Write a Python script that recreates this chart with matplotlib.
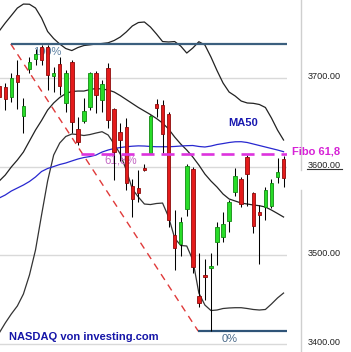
import matplotlib
matplotlib.use("Agg")
import matplotlib.pyplot as plt
from matplotlib.lines import Line2D
import matplotlib.transforms as mtransforms
import numpy as np

plt.rcParams['font.family'] = ['Liberation Sans', 'DejaVu Sans']
plt.rcParams['lines.scale_dashes'] = False

# ---- data ----
opens  = [3691, 3690.5, 3678.5, 3703.4, 3657.4, 3710.2, 3721.5, 3735.7, 3735.7, 3702.6,
          3715.8, 3672.4, 3718.8, 3643.0, 3652.0, 3667.2, 3706.3, 3675.5, 3711.3, 3664.9,
          3639.6, 3645.3, 3578.2, 3575.6, 3599.1, 3615.8, 3670.9, 3669.8, 3659.6, 3522.7,
          3512.6, 3551.8, 3597.0, 3453.7, 3477.2, 3485.0, 3515.2, 3520.8, 3538.9, 3571.7,
          3585.7, 3611.3, 3569.9, 3548.8, 3554.8, 3555.5, 3588.0, 3608.4]
highs  = [3695, 3694.3, 3705.7, 3720.7, 3677.7, 3724.4, 3733.1, 3737.7, 3737.7, 3713.1,
          3724.4, 3709.4, 3720.7, 3655.9, 3677.4, 3707.5, 3708.3, 3698.1, 3717.0, 3666.1,
          3650.0, 3655.0, 3586.1, 3596.3, 3602.6, 3658.5, 3676.2, 3675.5, 3662.2, 3551.0,
          3543.4, 3602.7, 3600.0, 3502.0, 3495.2, 3502.0, 3537.8, 3549.1, 3562.3, 3598.2,
          3588.7, 3613.2, 3571.7, 3556.7, 3577.4, 3585.7, 3609.5, 3612.1]
lows   = [3666, 3664.1, 3673.5, 3665.3, 3638.1, 3705.7, 3715.0, 3715.0, 3686.8, 3684.8,
          3681.1, 3662.2, 3637.8, 3624.5, 3649.1, 3664.1, 3661.1, 3662.2, 3643.4, 3585.0,
          3607.0, 3573.6, 3543.4, 3560.4, 3595.1, 3615.2, 3656.6, 3615.2, 3532.1, 3483.2,
          3499.0, 3544.2, 3479.8, 3441.6, 3449.2, 3414.5, 3488.8, 3515.2, 3526.5, 3566.9,
          3554.8, 3555.5, 3524.7, 3489.9, 3539.7, 3552.9, 3581.2, 3577.4]
closes = [3679, 3676.2, 3700.0, 3695.5, 3668.7, 3718.8, 3727.1, 3720.7, 3703.7, 3706.3,
          3691.3, 3706.3, 3650.9, 3628.3, 3663.0, 3705.7, 3681.1, 3693.2, 3652.8, 3617.0,
          3630.2, 3581.2, 3563.1, 3570.6, 3596.8, 3657.4, 3666.1, 3637.0, 3539.7, 3507.7,
          3537.8, 3600.8, 3487.1, 3446.2, 3474.9, 3487.3, 3532.1, 3534.8, 3559.7, 3589.5,
          3557.8, 3591.4, 3532.9, 3545.0, 3573.6, 3581.9, 3594.0, 3586.9]

bb_upper = [3753.5, 3762.6, 3771.0, 3779.5, 3784.0, 3783.8, 3779.5, 3768.2, 3753.0, 3745.0,
            3738.8, 3733.7, 3731.4, 3734.8, 3737.1, 3737.9, 3738.8, 3739.4, 3740.2, 3742.8,
            3746.7, 3752.4, 3759.2, 3763.1, 3763.7, 3758.0, 3750.1, 3741.6, 3741.1, 3741.6,
            3736.5, 3728.6, 3734.3, 3741.4, 3737.7, 3724.1, 3708.8, 3694.7, 3684.5, 3680.0,
            3674.3, 3672.1, 3671.7, 3670.4, 3667.0, 3655.1, 3641.5, 3630.2]
bb_middle = [3583.8, 3590.6, 3599.7, 3607.6, 3616.6, 3629.1, 3641.5, 3652.3, 3664.1, 3672.1,
             3678.3, 3682.8, 3685.1, 3685.6, 3685.6, 3687.3, 3688.5, 3687.9, 3686.8, 3684.5,
             3680.5, 3676.0, 3671.5, 3667.0, 3663.0, 3659.0, 3654.5, 3649.4, 3642.6, 3633.6,
             3625.7, 3618.9, 3611.0, 3601.9, 3591.7, 3583.8, 3577.0, 3569.1, 3563.5, 3561.2,
             3558.9, 3557.8, 3556.7, 3555.9, 3554.4, 3551.0, 3547.1, 3543.1]
bb_lower = [3411.9, 3423.2, 3433.4, 3442.5, 3456.0, 3477.5, 3505.8, 3545.4, 3583.8, 3613.2,
            3626.8, 3634.2, 3637.0, 3636.4, 3635.3, 3636.4, 3638.1, 3639.6, 3635.9, 3625.7,
            3614.4, 3596.3, 3574.8, 3565.7, 3557.8, 3557.2, 3558.4, 3558.9, 3543.1, 3519.3,
            3510.9, 3510.3, 3494.5, 3457.1, 3443.5, 3437.3, 3437.9, 3439.6, 3440.2, 3440.5,
            3440.5, 3439.6, 3438.5, 3437.9, 3438.5, 3444.7, 3451.5, 3457.1]
ma50 = [3564.6, 3568.0, 3572.5, 3575.9, 3579.3, 3583.3, 3588.4, 3594.6, 3598.0, 3600.2,
        3602.5, 3604.2, 3606.5, 3608.7, 3610.4, 3611.5, 3613.2, 3616.6, 3618.9, 3620.6,
        3621.7, 3622.6, 3623.2, 3623.6, 3623.4, 3622.9, 3622.6, 3622.6, 3622.6, 3622.9,
        3623.4, 3623.8, 3624.0, 3622.9, 3622.3, 3623.4, 3625.1, 3626.2, 3627.4, 3628.2,
        3628.3, 3627.4, 3625.7, 3624.0, 3622.3, 3620.6, 3618.9, 3617.0]

fib_high = 3739.0
fib_low = 3414.0
fib_high_idx = 1.9
fib_low_idx = 32.9
fib_level = 0.618
yticks = [3400, 3500, 3600, 3700]
ytick_labels = ["3400.00", "3500.00", "3600.00", "3700.00"]

# ---- figure ----
W, H = 351, 352
fig = plt.figure(figsize=(W / 100, H / 100), dpi=100)
fig.patch.set_facecolor('white')
ax = fig.add_axes([0, 0, 287 / W, 1])
ax.set_xlim(0.13, 47.57)
ax.set_ylim(3390.4, 3788.6)
ax.axis('off')

x = np.arange(len(opens))

# gridlines
for v in yticks:
    ax.axhline(v, color='#d9d9d9', lw=1.0, zorder=0)

# bollinger bands and MA50
ax.plot(x, bb_upper, color='#222222', lw=0.9, zorder=1)
ax.plot(x, bb_middle, color='#222222', lw=0.9, zorder=1)
ax.plot(x, bb_lower, color='#333333', lw=0.9, zorder=1)
ax.plot(x, ma50, color='#2828d0', lw=0.9, zorder=1)

# fibonacci construction
xr = 47.57
ax.plot([fib_high_idx, xr], [fib_high, fib_high], color='#3b5f7e', lw=1.6,
        solid_capstyle='butt', zorder=2)
ax.plot([fib_low_idx, xr], [fib_low, fib_low], color='#2f5478', lw=1.6,
        solid_capstyle='butt', zorder=2)
ax.plot([fib_high_idx, fib_low_idx], [fib_high, fib_low], color='#e03a3a', lw=1.0,
        dashes=(5, 4), zorder=1.5)
fib618 = fib_low + fib_level * (fib_high - fib_low)
ax.plot([13.6, xr], [fib618, fib618], color='#dd33dd', lw=1.9,
        dashes=(9.4, 5.0), dash_capstyle='butt', zorder=5)

# text labels on the chart
ax.text(5.55, 3729.7, "100%", color='#5b7fa0', fontsize=8, va='center', ha='left', zorder=1)
ax.text(17.45, 3606.5, "61,8%", color='#c46ac4', fontsize=8.3, va='center', ha='left', zorder=1)
ax.text(36.8, 3405.5, "0%", color='#4a6a8a', fontsize=8, va='center', ha='left', zorder=1)
ax.text(37.8, 3649.8, "MA50", color='#1818b0', fontsize=8, fontweight='bold',
        va='center', ha='left', zorder=6)

# candles
wick_w = 0.75
body_w = 0.58
for i in range(len(opens)):
    o, h, l, c = opens[i], highs[i], lows[i], closes[i]
    up = c >= o
    fc = '#28dc28' if up else '#e41b1b'
    ec = '#138a13' if up else '#8e0b0b'
    ax.vlines(i, l, h, color='black', lw=wick_w, zorder=3)
    ax.bar(i, abs(c - o), bottom=min(o, c), width=body_w, color=fc, edgecolor=ec,
           linewidth=0.6, zorder=4)

# right side: axis line, tick labels
blend = mtransforms.blended_transform_factory(fig.transFigure, ax.transData)
for v, lab in zip(yticks, ytick_labels):
    fig.text(307.3 / W, v + 1.5, lab, transform=blend, fontsize=6.6, color='#222222',
             va='center', ha='left')
fig.add_artist(Line2D([301 / W, 301 / W], [1, 1 - 170 / H], color='#cfcfcf', lw=1.0))
fig.add_artist(Line2D([301 / W, 301 / W], [1 - 190 / H, 0], color='#cfcfcf', lw=1.0))
fig.add_artist(Line2D([306.7 / W, 341.7 / W], [1 - 168.5 / H, 1 - 168.5 / H],
                      color='#333333', lw=0.8))
fig.text(292 / W, 1 - 151 / H, "Fibo 61,8", color='#d622d6', fontsize=8,
         fontweight='bold', va='center', ha='left')
fig.text(9.3 / W, 1 - 337.3 / H, "NASDAQ von investing.com", color='#1515a8',
         fontsize=8, fontweight='bold', va='center', ha='left')

fig.savefig("out.png", dpi=100, facecolor='white')
